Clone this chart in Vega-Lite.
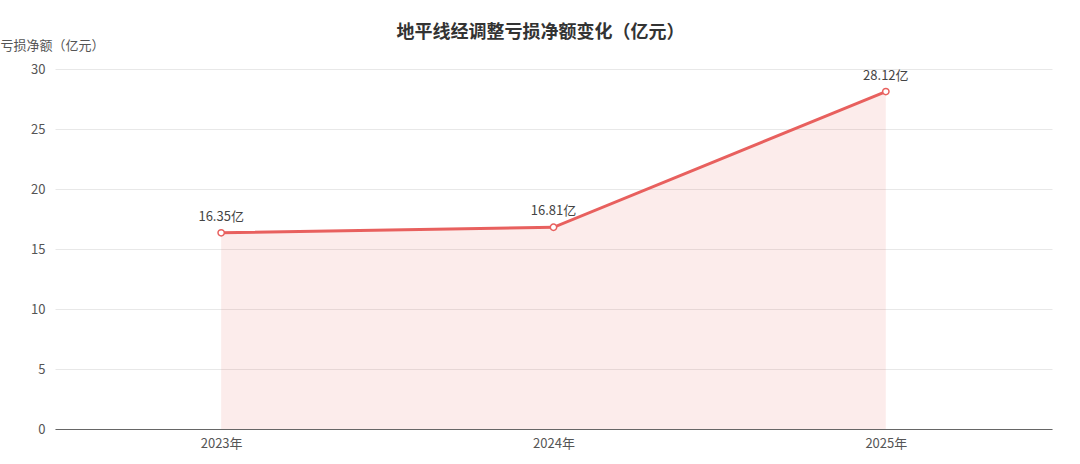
{
  "$schema": "https://vega.github.io/schema/vega-lite/v6.json",
  "autosize": {"type": "none"},
  "padding": {"left": 55, "top": 69, "right": 28, "bottom": 35},
  "width": 997,
  "height": 360,
  "title": {
    "text": "地平线经调整亏损净额变化（亿元）",
    "fontSize": 18,
    "fontWeight": "bold",
    "color": "#333333",
    "anchor": "middle",
    "dx": -13,
    "offset": -3
  },
  "data": {
    "values": [
      {"year": "2023年", "loss": 16.35, "label": "16.35亿"},
      {"year": "2024年", "loss": 16.81, "label": "16.81亿"},
      {"year": "2025年", "loss": 28.12, "label": "28.12亿"}
    ]
  },
  "encoding": {
    "x": {
      "field": "year",
      "type": "nominal",
      "scale": {"type": "point", "padding": 0.5},
      "axis": {
        "title": null,
        "labelAngle": 0,
        "labelFontSize": 13,
        "labelColor": "#555555",
        "ticks": false,
        "domainColor": "#666666",
        "labelPadding": 8,
        "grid": false
      }
    },
    "y": {
      "field": "loss",
      "type": "quantitative",
      "scale": {"domain": [0, 30]},
      "axis": {
        "title": "亏损净额（亿元）",
        "titleAngle": 0,
        "titleAlign": "left",
        "titleBaseline": "middle",
        "titleX": -55,
        "titleY": -24,
        "titleFontSize": 13,
        "titleFontWeight": "normal",
        "titleColor": "#555555",
        "values": [0, 5, 10, 15, 20, 25, 30],
        "labelFontSize": 13,
        "labelColor": "#555555",
        "labelPadding": 10,
        "ticks": false,
        "domain": false,
        "gridColor": "#e8e8e8"
      }
    }
  },
  "layer": [
    {"mark": {"type": "area", "color": "#e8605e", "opacity": 0.12}},
    {"mark": {"type": "line", "color": "#e8605e", "strokeWidth": 3}},
    {"mark": {"type": "point", "filled": true, "fill": "#ffffff", "stroke": "#e8605e", "strokeWidth": 1.5, "size": 40, "opacity": 1}},
    {
      "mark": {"type": "text", "dy": -16, "fontSize": 13, "color": "#444444"},
      "encoding": {"text": {"field": "label"}}
    }
  ],
  "config": {
    "font": "Noto Sans CJK SC",
    "view": {"stroke": null}
  }
}
